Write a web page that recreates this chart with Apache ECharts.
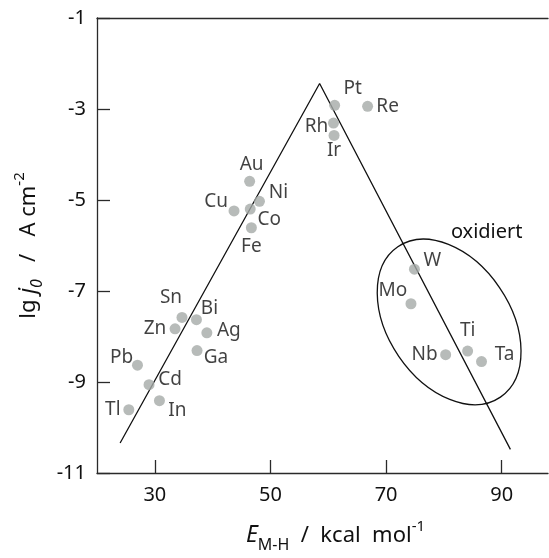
<!DOCTYPE html>
<html>
<head>
<meta charset="utf-8">
<script src="https://cdn.jsdelivr.net/npm/echarts@6/dist/echarts.min.js"></script>
<style>html,body{margin:0;padding:0;background:#fff}#c{width:549px;height:558px}</style>
</head>
<body>
<div id="c"></div>
<script>
// ---- data ----
const elements   = ['Pt','Re','Rh','Ir','Au','Ni','Cu','Co','Fe','Sn','Bi','Zn','Ag','Ga','Pb','Cd','Tl','In','W','Mo','Ti','Nb','Ta'];
const bondEnergy = [61.1,66.8,60.9,61.0,46.4,48.1,43.7,46.5,46.7,34.7,37.2,33.5,39.0,37.3,27.0,29.0,25.5,30.8,74.9,74.3,84.1,80.3,86.5];
const lgJ0       = [-2.92,-2.94,-3.31,-3.58,-4.59,-5.03,-5.24,-5.20,-5.61,-7.58,-7.63,-7.83,-7.92,-8.31,-8.63,-9.06,-9.61,-9.41,-6.52,-7.28,-8.32,-8.40,-8.55];
const volcanoE   = [24.0, 58.5, 91.5];
const volcanoLg  = [-10.34, -2.44, -10.48];
const xTicks     = [30, 50, 70, 90];
const yTicks     = [-11, -9, -7, -5, -3, -1];
const oxidCenter = [80.9, -7.68];
const oxidLabelAt = [87.4, -5.72];
const oxidText   = 'oxidiert';

// ---- label placement (style) ----
const labelOffset = {
  Pt:[18,-17], Re:[20,0], Rh:[-17,3], Ir:[0,15], Au:[2,-17], Ni:[19,-9], Cu:[-18,-9],
  Co:[19,10], Fe:[0,19], Sn:[-11,-20], Bi:[13,-11], Zn:[-20,0], Ag:[22,-2], Ga:[19,7],
  Pb:[-16,-8], Cd:[21,-5], Tl:[-16,0], In:[18,10], W:[18,-9], Mo:[-18,-13], Ti:[0,-20],
  Nb:[-21,0], Ta:[23,-7]
};

const FONT = 'Noto Sans';
const INK = '#111';
const scatterData = elements.map((n, i) => ({
  name: n,
  value: [bondEnergy[i], lgJ0[i]],
  label: { offset: labelOffset[n] }
}));
const volcanoData = volcanoE.map((e, i) => [e, volcanoLg[i]]);

const chart = echarts.init(document.getElementById('c'), null, {renderer: 'canvas'});
const axisLineStyle = { color: '#2a2a2a', width: 1.3 };
chart.setOption({
  animation: false,
  textStyle: { fontFamily: FONT },
  grid: { left: 97, right: 1, top: 18, bottom: 82, containLabel: false },
  xAxis: [{
    type: 'value', min: 20, max: 98, position: 'bottom',
    axisLine: { show: true, lineStyle: axisLineStyle },
    axisTick: { show: true, inside: true, length: 13, customValues: xTicks, lineStyle: axisLineStyle },
    axisLabel: { show: true, customValues: xTicks, fontSize: 20, color: INK, margin: 12, fontFamily: FONT },
    splitLine: { show: false },
    name: '{it|E}{sub|M-H}{n|  /  kcal  mol}{sup|-1}',
    nameLocation: 'middle', nameGap: 46,
    nameTextStyle: {
      padding: [0, 0, 0, 26],
      rich: {
        it: { fontSize: 23, fontStyle: 'italic', color: INK, fontFamily: FONT, verticalAlign: 'bottom', lineHeight: 28 },
        sub: { fontSize: 16, color: INK, fontFamily: FONT, verticalAlign: 'bottom', padding: [0, 0, -6, 0] },
        n: { fontSize: 22, color: INK, fontFamily: FONT, verticalAlign: 'bottom', lineHeight: 28 },
        sup: { fontSize: 15, color: INK, fontFamily: FONT, verticalAlign: 'top' }
      }
    }
  }, {
    type: 'value', min: 20, max: 98, position: 'top',
    axisLine: { show: true, lineStyle: axisLineStyle },
    axisTick: { show: false }, axisLabel: { show: false }, splitLine: { show: false }
  }],
  yAxis: {
    type: 'value', min: -11, max: -1,
    axisLine: { show: true, lineStyle: axisLineStyle },
    axisTick: { show: true, inside: true, length: 13, customValues: yTicks, lineStyle: axisLineStyle },
    axisLabel: { show: true, customValues: yTicks, fontSize: 20, color: INK, margin: 11, fontFamily: FONT },
    splitLine: { show: false },
    name: '{n|lg }{it|j}{isub|0}{n|   /   A cm}{sup|-2}',
    nameLocation: 'middle', nameGap: 55, nameRotate: 90,
    nameTextStyle: {
      padding: [0, 0, 0, 0],
      rich: {
        it: { fontSize: 23, fontStyle: 'italic', color: INK, fontFamily: FONT, verticalAlign: 'bottom', lineHeight: 28 },
        isub: { fontSize: 16, fontStyle: 'italic', color: INK, fontFamily: FONT, verticalAlign: 'bottom', padding: [0, 0, -6, 0] },
        n: { fontSize: 22, color: INK, fontFamily: FONT, verticalAlign: 'bottom', lineHeight: 28 },
        sup: { fontSize: 15, color: INK, fontFamily: FONT, verticalAlign: 'top' }
      }
    }
  },
  series: [{
    type: 'line', data: volcanoData, symbol: 'none', silent: true,
    lineStyle: { color: INK, width: 1.3 }, z: 2
  }, {
    type: 'scatter', data: scatterData, symbol: 'circle', symbolSize: 11,
    itemStyle: { color: '#a5aaa7' }, z: 3,
    label: {
      show: true, position: ['50%', '50%'], formatter: '{b}', fontSize: 19, color: INK,
      fontFamily: FONT, align: 'center', verticalAlign: 'middle'
    }
  }]
});

function placeGraphics() {
  const c = chart.convertToPixel({xAxisIndex: 0, yAxisIndex: 0}, oxidCenter);
  const t = chart.convertToPixel({xAxisIndex: 0, yAxisIndex: 0}, oxidLabelAt);
  chart.setOption({
    graphic: [{
      type: 'ellipse', x: c[0], y: c[1], rotation: -0.972,
      shape: { cx: 0, cy: 0, rx: 91, ry: 61 },
      style: { fill: 'none', stroke: INK, lineWidth: 1.3 }, silent: true, z: 1
    }, {
      type: 'text', x: t[0], y: t[1],
      style: { text: oxidText, fontSize: 20, fontFamily: FONT, fill: INK, align: 'center', verticalAlign: 'middle' },
      silent: true
    }]
  });
}
placeGraphics();
</script>
</body>
</html>
